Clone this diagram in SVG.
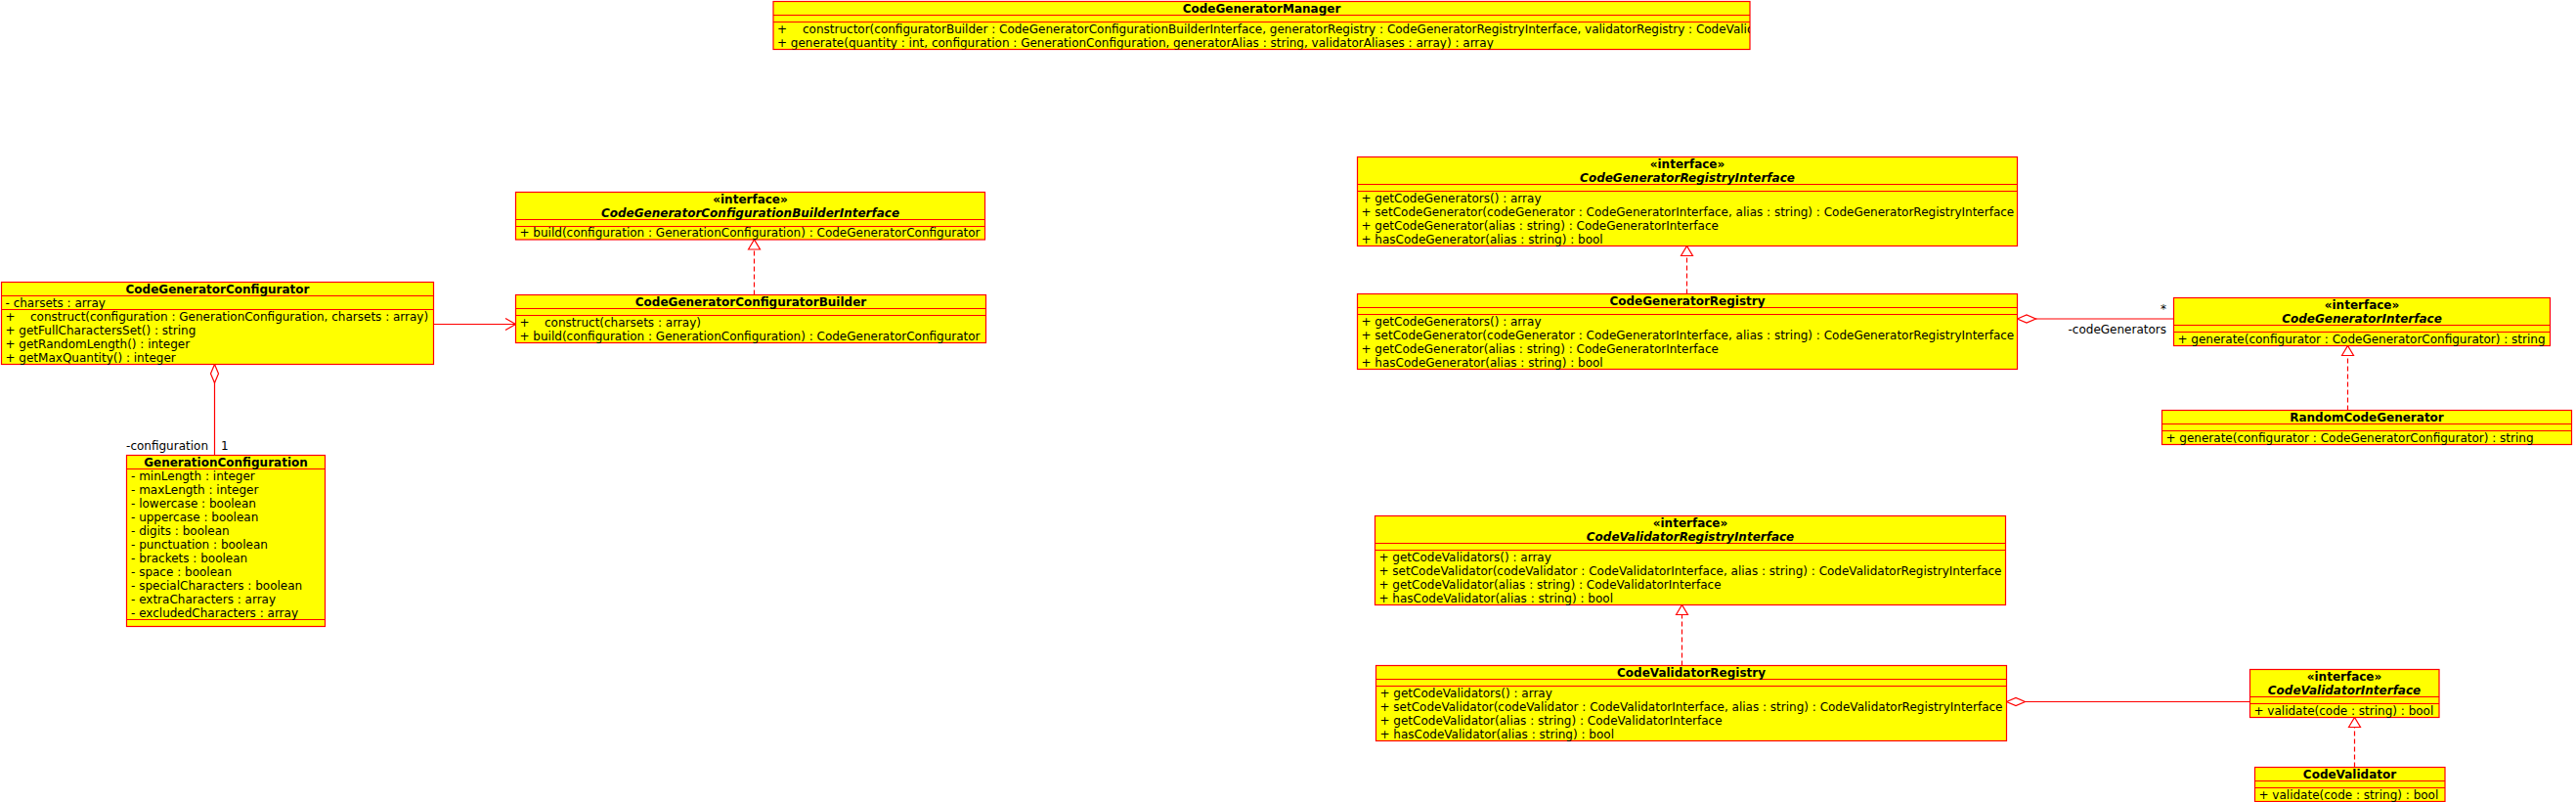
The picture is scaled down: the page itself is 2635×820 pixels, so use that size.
<svg xmlns="http://www.w3.org/2000/svg" width="2635" height="820" viewBox="0 0 2635 820">
<style>
.box{fill:#ffff00;stroke:#ff0000;stroke-width:1.2}
.sep{stroke:#ff0000;stroke-width:1.2;fill:none}
text{font-family:"DejaVu Sans","Liberation Sans",sans-serif;font-size:12px;fill:#000}
.nm{font-weight:bold;text-anchor:middle}
.it{font-weight:bold;font-style:italic;text-anchor:middle}
.lbl{text-anchor:end}
.conn{stroke:#ff0000;stroke-width:1.2;fill:none}
.dash{stroke-dasharray:5,3}
</style>
<defs>
<marker id="tri" markerUnits="userSpaceOnUse" markerWidth="12" markerHeight="14" viewBox="-1 -1 12 14" refX="10" refY="6" orient="auto" overflow="visible">
<path d="M0,0 L10,6 L0,12 Z" fill="#ffffff" stroke="#ff0000" stroke-width="1.2" stroke-dasharray="none"/>
</marker>
<marker id="dia" markerUnits="userSpaceOnUse" markerWidth="21" markerHeight="10" viewBox="-1 -1 21 10" refX="0" refY="4" orient="auto" overflow="visible">
<path d="M0,4 L9.5,0 L19,4 L9.5,8 Z" fill="#ffffff" stroke="#ff0000" stroke-width="1.2"/>
</marker>
<marker id="open" markerUnits="userSpaceOnUse" markerWidth="12" markerHeight="14" viewBox="-1 -1 12 14" refX="10.5" refY="6" orient="auto" overflow="visible">
<path d="M0,0 L10.5,6 L0,12" fill="none" stroke="#ff0000" stroke-width="1.2"/>
</marker>
<clipPath id="clipMgr"><rect x="791" y="1.5" width="999" height="49"/></clipPath>
</defs>

<g id="connectors">
<path class="conn" d="M443.5,331.5 L527.5,331.5" marker-end="url(#open)"/>
<path class="conn dash" d="M771.5,301.5 L771.5,245" marker-end="url(#tri)"/>
<path class="conn" d="M219.5,372.5 L219.5,465.5" marker-start="url(#dia)"/>
<text x="213" y="459.5" class="lbl">-configuration</text>
<text x="226" y="459.5">1</text>
<path class="conn dash" d="M1725.5,300.5 L1725.5,251.5" marker-end="url(#tri)"/>
<path class="conn" d="M2063.5,326 L2223.5,326" marker-start="url(#dia)"/>
<text x="2216" y="320" class="lbl">*</text>
<text x="2216" y="340.5" class="lbl">-codeGenerators</text>
<path class="conn dash" d="M2401.5,419.5 L2401.5,353.5" marker-end="url(#tri)"/>
<path class="conn dash" d="M1720.5,680.5 L1720.5,618.5" marker-end="url(#tri)"/>
<path class="conn" d="M2052.5,717.5 L2301.5,717.5" marker-start="url(#dia)"/>
<path class="conn dash" d="M2408.5,784.5 L2408.5,733.5" marker-end="url(#tri)"/>
</g>

<g id="CodeGeneratorManager">
<rect class="box" x="791" y="1.5" width="999" height="49"/>
<path class="sep" d="M791,15.5 H1790 M791,22.5 H1790"/>
<text x="1290.5" y="12.5" class="nm">CodeGeneratorManager</text>
<g clip-path="url(#clipMgr)">
<text x="795" y="33.5">+<tspan x="821">constructor(configuratorBuilder : CodeGeneratorConfigurationBuilderInterface, generatorRegistry : CodeGeneratorRegistryInterface, validatorRegistry : CodeValid</tspan></text>
<text x="795" y="47.5">+ generate(quantity : int, configuration : GenerationConfiguration, generatorAlias : string, validatorAliases : array) : array</text>
</g>
</g>

<g id="CodeGeneratorConfigurator">
<rect class="box" x="1.5" y="288.5" width="442" height="84"/>
<path class="sep" d="M1.5,302.5 H443.5 M1.5,316.5 H443.5"/>
<text x="222.5" y="299.5" class="nm">CodeGeneratorConfigurator</text>
<text x="5.5" y="313.5">- charsets : array</text>
<text x="5.5" y="327.5">+<tspan x="31">construct(configuration : GenerationConfiguration, charsets : array)</tspan></text>
<text x="5.5" y="341.5">+ getFullCharactersSet() : string</text>
<text x="5.5" y="355.5">+ getRandomLength() : integer</text>
<text x="5.5" y="369.5">+ getMaxQuantity() : integer</text>
</g>

<g id="CodeGeneratorConfigurationBuilderInterface">
<rect class="box" x="527.5" y="196.5" width="480" height="48.5"/>
<path class="sep" d="M527.5,224.5 H1007.5 M527.5,231.5 H1007.5"/>
<text x="767.5" y="207.5" class="nm">«interface»</text>
<text x="767.5" y="221.5" class="it">CodeGeneratorConfigurationBuilderInterface</text>
<text x="531.5" y="242">+ build(configuration : GenerationConfiguration) : CodeGeneratorConfigurator</text>
</g>

<g id="CodeGeneratorConfiguratorBuilder">
<rect class="box" x="527.5" y="301.5" width="481" height="49"/>
<path class="sep" d="M527.5,315.5 H1008.5 M527.5,322.5 H1008.5"/>
<text x="768" y="312.5" class="nm">CodeGeneratorConfiguratorBuilder</text>
<text x="531.5" y="333.5">+<tspan x="557">construct(charsets : array)</tspan></text>
<text x="531.5" y="347.5">+ build(configuration : GenerationConfiguration) : CodeGeneratorConfigurator</text>
</g>

<g id="GenerationConfiguration">
<rect class="box" x="129.5" y="465.5" width="203" height="175"/>
<path class="sep" d="M129.5,479.5 H332.5 M129.5,633.5 H332.5"/>
<text x="231" y="476.5" class="nm">GenerationConfiguration</text>
<text x="134" y="490.5">- minLength : integer</text>
<text x="134" y="504.5">- maxLength : integer</text>
<text x="134" y="518.5">- lowercase : boolean</text>
<text x="134" y="532.5">- uppercase : boolean</text>
<text x="134" y="546.5">- digits : boolean</text>
<text x="134" y="560.5">- punctuation : boolean</text>
<text x="134" y="574.5">- brackets : boolean</text>
<text x="134" y="588.5">- space : boolean</text>
<text x="134" y="602.5">- specialCharacters : boolean</text>
<text x="134" y="616.5">- extraCharacters : array</text>
<text x="134" y="630.5">- excludedCharacters : array</text>
</g>

<g id="CodeGeneratorRegistryInterface">
<rect class="box" x="1388.5" y="160.5" width="675" height="91"/>
<path class="sep" d="M1388.5,188.5 H2063.5 M1388.5,195.5 H2063.5"/>
<text x="1726" y="171.5" class="nm">«interface»</text>
<text x="1726" y="185.5" class="it">CodeGeneratorRegistryInterface</text>
<text x="1392.5" y="206.5">+ getCodeGenerators() : array</text>
<text x="1392.5" y="220.5">+ setCodeGenerator(codeGenerator : CodeGeneratorInterface, alias : string) : CodeGeneratorRegistryInterface</text>
<text x="1392.5" y="234.5">+ getCodeGenerator(alias : string) : CodeGeneratorInterface</text>
<text x="1392.5" y="248.5">+ hasCodeGenerator(alias : string) : bool</text>
</g>

<g id="CodeGeneratorRegistry">
<rect class="box" x="1388.5" y="300.5" width="675" height="77"/>
<path class="sep" d="M1388.5,314.5 H2063.5 M1388.5,321.5 H2063.5"/>
<text x="1726" y="311.5" class="nm">CodeGeneratorRegistry</text>
<text x="1392.5" y="332.5">+ getCodeGenerators() : array</text>
<text x="1392.5" y="346.5">+ setCodeGenerator(codeGenerator : CodeGeneratorInterface, alias : string) : CodeGeneratorRegistryInterface</text>
<text x="1392.5" y="360.5">+ getCodeGenerator(alias : string) : CodeGeneratorInterface</text>
<text x="1392.5" y="374.5">+ hasCodeGenerator(alias : string) : bool</text>
</g>

<g id="CodeGeneratorInterface">
<rect class="box" x="2223.5" y="304.5" width="385" height="49"/>
<path class="sep" d="M2223.5,332.5 H2608.5 M2223.5,339.5 H2608.5"/>
<text x="2416" y="315.5" class="nm">«interface»</text>
<text x="2416" y="329.5" class="it">CodeGeneratorInterface</text>
<text x="2227.5" y="350.5">+ generate(configurator : CodeGeneratorConfigurator) : string</text>
</g>

<g id="RandomCodeGenerator">
<rect class="box" x="2211.5" y="419.5" width="419" height="35"/>
<path class="sep" d="M2211.5,433.5 H2630.5 M2211.5,440.5 H2630.5"/>
<text x="2421" y="430.5" class="nm">RandomCodeGenerator</text>
<text x="2215.5" y="451.5">+ generate(configurator : CodeGeneratorConfigurator) : string</text>
</g>

<g id="CodeValidatorRegistryInterface">
<rect class="box" x="1406.5" y="527.5" width="645" height="91"/>
<path class="sep" d="M1406.5,555.5 H2051.5 M1406.5,562.5 H2051.5"/>
<text x="1729" y="538.5" class="nm">«interface»</text>
<text x="1729" y="552.5" class="it">CodeValidatorRegistryInterface</text>
<text x="1410.5" y="573.5">+ getCodeValidators() : array</text>
<text x="1410.5" y="587.5">+ setCodeValidator(codeValidator : CodeValidatorInterface, alias : string) : CodeValidatorRegistryInterface</text>
<text x="1410.5" y="601.5">+ getCodeValidator(alias : string) : CodeValidatorInterface</text>
<text x="1410.5" y="615.5">+ hasCodeValidator(alias : string) : bool</text>
</g>

<g id="CodeValidatorRegistry">
<rect class="box" x="1407.5" y="680.5" width="645" height="77"/>
<path class="sep" d="M1407.5,694.5 H2052.5 M1407.5,701.5 H2052.5"/>
<text x="1730" y="691.5" class="nm">CodeValidatorRegistry</text>
<text x="1411.5" y="712.5">+ getCodeValidators() : array</text>
<text x="1411.5" y="726.5">+ setCodeValidator(codeValidator : CodeValidatorInterface, alias : string) : CodeValidatorRegistryInterface</text>
<text x="1411.5" y="740.5">+ getCodeValidator(alias : string) : CodeValidatorInterface</text>
<text x="1411.5" y="754.5">+ hasCodeValidator(alias : string) : bool</text>
</g>

<g id="CodeValidatorInterface">
<rect class="box" x="2301.5" y="684.5" width="193.5" height="49"/>
<path class="sep" d="M2301.5,712.5 H2495 M2301.5,719.5 H2495"/>
<text x="2398" y="695.5" class="nm">«interface»</text>
<text x="2398" y="709.5" class="it">CodeValidatorInterface</text>
<text x="2305.5" y="730.5">+ validate(code : string) : bool</text>
</g>

<g id="CodeValidator">
<rect class="box" x="2306.5" y="784.5" width="194.5" height="35"/>
<path class="sep" d="M2306.5,798.5 H2501 M2306.5,805.5 H2501"/>
<text x="2403.5" y="795.5" class="nm">CodeValidator</text>
<text x="2310.5" y="816.5">+ validate(code : string) : bool</text>
</g>
</svg>
